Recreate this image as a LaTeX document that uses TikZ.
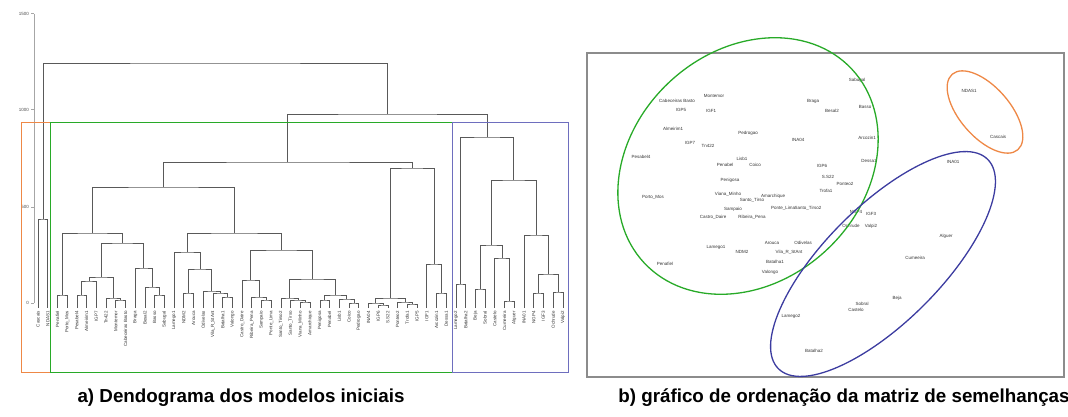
\documentclass[tikz,border=0pt]{standalone}
\usepackage{fontspec}
\setmainfont{Liberation Sans}
\usetikzlibrary{calc}
\definecolor{clorange}{RGB}{238,136,70}
\definecolor{clgreen}{RGB}{40,170,40}
\definecolor{clblue}{RGB}{60,60,160}
\definecolor{clrect}{RGB}{110,110,190}
\tikzset{
    dend/.style={draw=black!65, line width=.7pt},
    axisline/.style={draw=black!35, line width=1pt},
    ticklab/.style={anchor=east, font=\fontsize{4.5}{5}\selectfont, text=black!70,
        inner sep=1pt},
    leaflab/.style={rotate=90, anchor=east, font=\fontsize{4.5}{5}\selectfont,
        text=black!80, inner sep=0pt},
    ordlab/.style={font=\fontsize{4.5}{5}\selectfont, text=black!80, inner sep=0pt},
    groupbox/.style={line width=1pt},
    groupell/.style={line width=1.3pt},
    caption/.style={font=\bfseries\fontsize{18.8}{20}\selectfont, inner sep=0pt},
}
\newcommand{\dmerge}[4]{% #1 new node, #2 and #3 children, #4 merge height
    \path let \p1 = ($(#2)!.5!(#3)$) in coordinate (#1) at (\x1, #4);
    \draw[dend] (#2) |- (#1) -| (#3);
}

\begin{document}
\begin{tikzpicture}[x=1pt, y=-1pt]
    \useasboundingbox (0,0) rectangle (1068,417);

    % a) dendrogram: axis
    \draw[axisline] (34,14) -- (34,303);
    \foreach \y/\v in {14/1500, 110/1000, 207/500, 303/0} {
        \draw[axisline] (31,\y) -- (34,\y);
        \node[ticklab] (y\v) at (30,\y) {\v};
    }

    % leaves, spacing 9.72
    \foreach \i in {1,...,55} \coordinate (l\i) at ({38+9.72*(\i-1)}, 308);
    \foreach \t [count=\i] in {Cascais, NDAS1,
        Penafiel, Porto\_Mos, Pesabel4, Almeirim1, IGP7, Tn422, Montemor,
        Cabeceiras Basto, Braga, Besal2, Basso, Sabugal, Lamego1, NDM2, Arouca,
        Odivelas, Vila\_R\_StAnt, Batalha1, Valongo, Castro\_Daire, Ribeira\_Pena,
        Sampaio, Ponte\_Lima, Santo\_Tirso2, Santo\_Tirso, Viana\_Minho, Amarchique,
        Penigosa, Penabel, Lisb1, Coico, Pedrogao, INA04, IGP6, S.S22, Ponteo2,
        Trofa1, IGP5, IGF1, Arcozin1, Dessa1,
        Lamego2, Batalha2, Beja, Sobral, Castelo, Cumeeira, Alguer, INA01, NGP4,
        IGF3, Ochrude, Valpi2}
        \node[leaflab] (t\i) at ($(l\i)+(0,3)$) {\t};

    \dmerge{corange}{l1}{l2}{219} % orange group

    \dmerge{a1}{l3}{l4}{295} % green group, left half
    \dmerge{p56}{l5}{l6}{295}
    \dmerge{c1}{p56}{l7}{281}
    \dmerge{p910}{l9}{l10}{300}
    \dmerge{c2}{l8}{p910}{298}
    \dmerge{b1}{c1}{c2}{277}
    \dmerge{p1314}{l13}{l14}{295}
    \dmerge{c3}{l12}{p1314}{287}
    \dmerge{b2}{l11}{c3}{268}
    \dmerge{a2}{b1}{b2}{243}
    \dmerge{g1a}{a1}{a2}{233}
    \dmerge{p1617}{l16}{l17}{293}
    \dmerge{p2021}{l20}{l21}{297}
    \dmerge{e2a}{l19}{p2021}{293}
    \dmerge{e2}{l18}{e2a}{291}
    \dmerge{e1}{p1617}{e2}{269}
    \dmerge{d1}{l15}{e1}{252}
    \dmerge{p2425}{l24}{l25}{300}
    \dmerge{g1}{l23}{p2425}{297}
    \dmerge{f1}{l22}{g1}{280}
    \dmerge{p2829}{l28}{l29}{302}
    \dmerge{h1a}{l27}{p2829}{300}
    \dmerge{h1}{l26}{h1a}{298}
    \dmerge{p3031}{l30}{l31}{300}
    \dmerge{p3334}{l33}{l34}{303}
    \dmerge{h2a}{l32}{p3334}{299}
    \dmerge{h2}{p3031}{h2a}{295}
    \dmerge{f2}{h1}{h2}{279}
    \dmerge{d2}{f1}{f2}{250}
    \dmerge{g1b}{d1}{d2}{233}
    \dmerge{gone}{g1a}{g1b}{187}

    \dmerge{p3637}{l36}{l37}{305} % green group, right half
    \dmerge{i1}{l35}{p3637}{303}
    \dmerge{p3940}{l39}{l40}{304}
    \dmerge{i2}{l38}{p3940}{302}
    \dmerge{g2a}{i1}{i2}{298}
    \dmerge{p4243}{l42}{l43}{293}
    \dmerge{g2b}{l41}{p4243}{264}
    \dmerge{gtwo}{g2a}{g2b}{168}
    \dmerge{cgreen}{gone}{gtwo}{162}

    \dmerge{j1}{l44}{l45}{284} % blue group
    \dmerge{p4647}{l46}{l47}{289}
    \dmerge{p4950}{l49}{l50}{301}
    \dmerge{k1b}{l48}{p4950}{258}
    \dmerge{k1}{p4647}{k1b}{245}
    \dmerge{p5253}{l52}{l53}{293}
    \dmerge{p5455}{l54}{l55}{292}
    \dmerge{k2b}{p5253}{p5455}{274}
    \dmerge{k2}{l51}{k2b}{235}
    \dmerge{j2}{k1}{k2}{180}
    \dmerge{cblue}{j1}{j2}{137}

    \dmerge{cgb}{cgreen}{cblue}{114}
    \dmerge{root}{corange}{cgb}{63}

    \draw[groupbox, clorange] (21,123) rectangle (50,372);
    \draw[groupbox, clgreen] (50,123) rectangle (452,372);
    \draw[groupbox, clrect] (452,123) rectangle (568,372);

    % b) ordination plot
    \draw[black!45, line width=1.4pt] (587,53) rectangle (1064,377);
    \foreach \x/\y/\t [count=\k] in {969/91/NDAS1, 998/137/Cascais,
        953/162/INA01, 856/212/NGP4, 871/214/IGF3, 851/226/Ochrude, 871/226/Valpi2,
        946/236/Alguer, 915/258/Cumeeira, 897/298/Beja, 862/304/Sobral,
        856/310/Castelo, 791/316/Lamego2, 814/351/Batalha2,
        857/80/Sabugal, 813/101/Braga, 832/111/Besal2, 865/107/Basso,
        677/101/Cabeceiras Basto, 714/96/Montemor, 681/110/IGP5, 711/111/IGF1,
        673/129/Almeirim1, 690/143/IGP7, 708/146/Tn422, 748/133/Pedrogao,
        798/140/INA04, 867/138/Arcozin1, 641/157/Pesabel4, 725/165/Penabel,
        742/159/Lisb1, 755/165/Coico, 822/166/IGP6, 869/161/Dessa1, 828/177/S.S22,
        845/184/Ponteo2, 826/191/Trofa1, 730/180/Penigosa, 653/197/Porto\_Mos,
        728/194/Viana\_Minho, 773/196/Amarchique, 752/200/Santo\_Tirso,
        733/209/Sampaio, 783/208/Ponte\_Lima, 808/208/Santo\_Tirso2,
        713/217/Castro\_Daire, 752/217/Ribeira\_Pena, 716/247/Lamego1,
        742/252/NDM2, 772/243/Arouca, 803/243/Odivelas, 789/252/Vila\_R\_StAnt,
        775/262/Batalha1, 770/272/Valongo, 665/264/Penafiel}
        \node[ordlab] (m\k) at (\x,\y) {\t};

    \draw[groupell, clgreen, shift={(748,166)}, rotate=43] (0,0)
        ellipse [x radius=142pt, y radius=115pt];
    \draw[groupell, clblue, shift={(883,264)}, rotate=45] (0,0)
        ellipse [x radius=148pt, y radius=58pt];
    \draw[groupell, clorange, shift={(985,112)}, rotate=-49] (0,0)
        ellipse [x radius=50pt, y radius=25pt];

    \node[caption] (capa) at (241,398) {a) Dendograma dos modelos iniciais};
    \node[caption] (capb) at (844,398) {b) gráfico de ordenação da matriz de semelhanças};
\end{tikzpicture}
\end{document}
